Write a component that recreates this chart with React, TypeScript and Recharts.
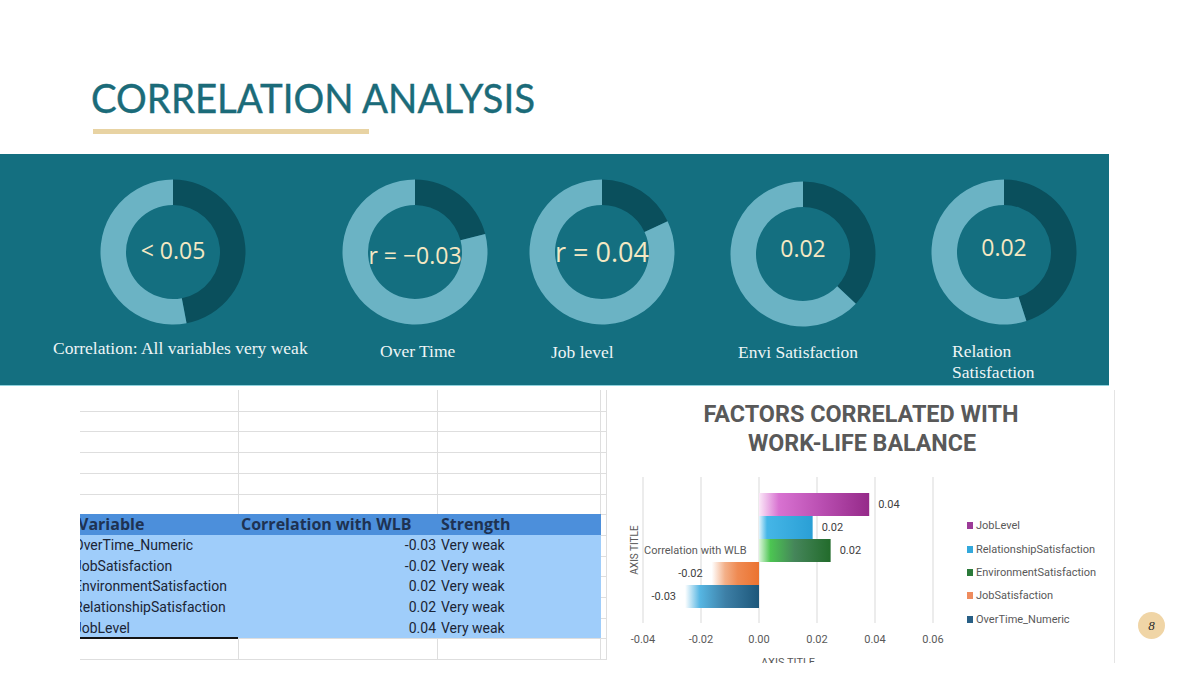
import React from 'react';
import {
    PieChart, Pie, Cell, Label,
    BarChart, Bar, XAxis, YAxis, CartesianGrid, LabelList, Legend, ReferenceDot
} from 'recharts';

// donut strip
const donutCaptions = ['Correlation: All variables very weak', 'Over Time', 'Job level', 'Envi Satisfaction', 'Relation Satisfaction'];
const donutTexts = ['< 0.05', 'r = \u22120.03', 'r = 0.04', '0.02', '0.02'];
const donutShares = [47, 21, 18, 37, 45];

// spreadsheet table
const tableHeaders = ['Variable', 'Correlation with WLB', 'Strength'];
const tableVariables = ['OverTime_Numeric', 'JobSatisfaction', 'EnvironmentSatisfaction', 'RelationshipSatisfaction', 'JobLevel'];
const tableCorrelations = [-0.03, -0.02, 0.02, 0.02, 0.04];
const tableStrengths = ['Very weak', 'Very weak', 'Very weak', 'Very weak', 'Very weak'];

// bar chart
const chartCategory = 'Correlation with WLB';
const factorNames = ['JobLevel', 'RelationshipSatisfaction', 'EnvironmentSatisfaction', 'JobSatisfaction', 'OverTime_Numeric'];
const factorValues = [0.038, 0.0185, 0.0247, -0.0163, -0.0255];
const xTicks = [-0.04, -0.02, 0, 0.02, 0.04, 0.06];

const TEAL = '#146f80';
const RING_DARK = '#0a4f5c';
const RING_LIGHT = '#6bb3c4';
const CREAM = '#f4e8c3';

// donut centres on the slide
const donutCentres = [
    { x: 173, y: 252 },
    { x: 414.5, y: 251.5 },
    { x: 601.5, y: 252 },
    { x: 802.5, y: 253.5 },
    { x: 1004, y: 252 },
];
const DONUT_BOX = 160;
const donutFont = [23, 23, 27, 23, 23];
const donutDy = [-1, 4, 0, -5, -4];
const captionPos = [
    { left: 53, top: 338 },
    { left: 380, top: 341 },
    { left: 551, top: 342 },
    { left: 738, top: 342 },
    { left: 952, top: 341 },
];

const swatches = ['#9c3b98', '#33a8db', '#2b7a3a', '#ef8c5e', '#285f85'];
const gradientStops: [number, string][][] = [
    [[0, '#fbe8f8'], [0.18, '#d872d1'], [0.55, '#bb50b3'], [1, '#952a89']],
    [[0, '#e2f4fc'], [0.15, '#45b6e7'], [1, '#2a9fd5']],
    [[0, '#dcf6dc'], [0.16, '#4cc552'], [0.5, '#45855a'], [1, '#226b2b']],
    [[0, '#ffffff'], [0.28, '#f3b089'], [0.55, '#ef8a52'], [1, '#eb7330']],
    [[0, '#ffffff'], [0.2, '#56b6e3'], [0.55, '#3d7fa6'], [1, '#1d577a']],
];

const barRows = [
    factorNames.reduce<Record<string, string | number>>((row, name, i) => {
        row[name] = factorValues[i];
        return row;
    }, { name: chartCategory }),
];

const ROW_H = 20.7;
const SHEET_ROWS = 13;
const HEADER_ROW = 6;

const Donut = ({ i }: { i: number }) => {
    const share = donutShares[i];
    const c = donutCentres[i];
    return (
        <div style={{ position: 'absolute', left: c.x - DONUT_BOX / 2, top: c.y - 154 - DONUT_BOX / 2, fontFamily: '"Open Sans", sans-serif' }}>
            <PieChart width={DONUT_BOX} height={DONUT_BOX} margin={{ top: 0, right: 0, bottom: 0, left: 0 }}>
                <Pie
                    data={[{ name: 'r', value: share }, { name: 'rest', value: 100 - share }]}
                    dataKey="value"
                    cx="50%"
                    cy="50%"
                    innerRadius={47}
                    outerRadius={72.5}
                    startAngle={90}
                    endAngle={-270}
                    stroke="none"
                    isAnimationActive={false}
                >
                    <Cell fill={RING_DARK} />
                    <Cell fill={RING_LIGHT} />
                    <Label value={donutTexts[i]} position="center" fill={CREAM} fontSize={donutFont[i]} dy={donutDy[i]} />
                </Pie>
            </PieChart>
        </div>
    );
};

const SheetTable = () => {
    const headerTop = HEADER_ROW * ROW_H;
    return (
        <div style={{ position: 'absolute', left: 80, top: 390, width: 530, height: 272, overflow: 'hidden' }}>
            {/* grid */}
            {Array.from({ length: SHEET_ROWS }, (_, i) => (
                <div key={'h' + i} style={{ position: 'absolute', left: 0, width: 526, top: (i + 1) * ROW_H, height: 1, background: '#dedede' }} />
            ))}
            {[158, 357, 520, 526].map(x => (
                <div key={'v' + x} style={{ position: 'absolute', top: 0, height: 270, left: x, width: 1, background: '#dedede' }} />
            ))}
            {/* blue block */}
            <div style={{ position: 'absolute', left: 0, width: 521, top: headerTop, height: ROW_H + 0.5, background: '#4c8fdb' }} />
            <div style={{ position: 'absolute', left: 0, width: 521, top: headerTop + ROW_H, height: ROW_H * 5, background: '#9fcdfa' }} />
            <div style={{ position: 'absolute', left: 0, width: 158, top: headerTop + ROW_H * 6 - 1, height: 2, background: '#141414' }} />

            {/* header */}
            <div style={{ position: 'absolute', top: headerTop, height: ROW_H, lineHeight: ROW_H + 'px', left: 0, right: 0, fontFamily: '"Open Sans", sans-serif', fontWeight: 700, fontSize: 16, color: '#1e3252' }}>
                <span style={{ position: 'absolute', left: -2 }}>{tableHeaders[0]}</span>
                <span style={{ position: 'absolute', left: 161 }}>{tableHeaders[1]}</span>
                <span style={{ position: 'absolute', left: 361 }}>{tableHeaders[2]}</span>
            </div>

            {/* data rows */}
            {tableVariables.map((v, i) => (
                <div key={v} style={{ position: 'absolute', top: headerTop + ROW_H * (i + 1), height: ROW_H, lineHeight: ROW_H + 'px', left: 0, right: 0, fontFamily: 'Roboto, sans-serif', fontSize: 14, color: '#1b2536' }}>
                    <span style={{ position: 'absolute', left: -6 }}>{v}</span>
                    <span style={{ position: 'absolute', right: 530 - 356, textAlign: 'right' }}>{tableCorrelations[i].toFixed(2)}</span>
                    <span style={{ position: 'absolute', left: 361 }}>{tableStrengths[i]}</span>
                </div>
            ))}
        </div>
    );
};

const renderLegend = () => (
    <div style={{ display: 'flex', flexDirection: 'column', fontFamily: 'Roboto, sans-serif' }}>
        {factorNames.map((n, i) => (
            <div key={n} style={{ height: 23.4, display: 'flex', alignItems: 'center', fontSize: 11, color: '#595959' }}>
                <span style={{ display: 'inline-block', width: 6, height: 7, background: swatches[i], marginRight: 3 }} />
                {n}
            </div>
        ))}
    </div>
);

const FactorChart = () => (
    <div style={{ position: 'absolute', left: 610, top: 390, width: 503, height: 273, background: '#fff', fontFamily: 'Roboto, sans-serif' }}>
        <svg width={503} height={70} style={{ position: 'absolute', left: 0, top: 0 }}>
            <text x={251} y={31.7} textAnchor="middle" fontFamily="Roboto, sans-serif" fontWeight={700} fontSize={23} fill="#595959" textLength={315} lengthAdjust="spacingAndGlyphs">FACTORS CORRELATED WITH</text>
            <text x={252} y={61} textAnchor="middle" fontFamily="Roboto, sans-serif" fontWeight={700} fontSize={23} fill="#595959" textLength={228} lengthAdjust="spacingAndGlyphs">WORK-LIFE BALANCE</text>
        </svg>
        <BarChart
            width={503}
            height={273}
            data={barRows}
            layout="vertical"
            margin={{ top: 87, right: 180, left: 15, bottom: 10 }}
            barGap={0}
            barCategoryGap={0}
        >
            <defs>
                {gradientStops.map((stops, i) => (
                    <linearGradient key={i} id={'fade' + i} x1="0" y1="0" x2="1" y2="0">
                        {stops.map(([o, c]) => <stop key={o} offset={o} stopColor={c} />)}
                    </linearGradient>
                ))}
            </defs>
            <CartesianGrid horizontal={false} stroke="#d9d9d9" />
            <XAxis
                type="number"
                domain={[-0.04, 0.06]}
                ticks={xTicks}
                tickFormatter={(v: number) => v.toFixed(2)}
                axisLine={false}
                tickLine={false}
                tickMargin={6}
                height={30}
                tick={{ fill: '#595959', fontSize: 11 }}
                label={{ value: 'AXIS TITLE', position: 'bottom', offset: 5, fill: '#595959', fontSize: 11 }}
            />
            <YAxis
                type="category"
                dataKey="name"
                width={18}
                tick={false}
                axisLine={false}
                tickLine={false}
                label={{ value: 'AXIS TITLE', angle: -90, position: 'center', fill: '#595959', fontSize: 10 }}
            />
            {factorNames.map((name, i) => (
                <Bar key={name} dataKey={name} fill={`url(#fade${i})`} barSize={23} isAnimationActive={false}>
                    <LabelList dataKey={name} position="right" offset={9} fill="#404040" fontSize={11}
                        formatter={(v: any) => Number(v).toFixed(2)} />
                </Bar>
            ))}
            <ReferenceDot x={0} y={chartCategory} r={0.5} fill="none" stroke="none"
                label={{ value: chartCategory, position: 'left', offset: 12, fill: '#595959', fontSize: 11 }} />
            <Legend
                layout="vertical"
                align="center"
                verticalAlign="middle"
                content={renderLegend}
                wrapperStyle={{ left: 357, top: 124, width: 150 }}
            />
        </BarChart>
    </div>
);

export default function App() {
    return (
        <div style={{ position: 'relative', width: 1200, height: 675, background: '#fff', overflow: 'hidden' }}>
            <style>{'body{margin:0}'}</style>

            {/* slide title */}
            <svg width={600} height={140} style={{ position: 'absolute', left: 0, top: 0 }}>
                <text x={91} y={113} fontFamily="Lato, sans-serif" fontSize={40} fill="#1b6b79" stroke="#1b6b79" strokeWidth={0.4} textLength={444} lengthAdjust="spacingAndGlyphs">CORRELATION ANALYSIS</text>
            </svg>
            <div style={{ position: 'absolute', left: 93, top: 129, width: 276, height: 5, background: '#e8d3a3' }} />

            {/* teal band with donuts */}
            <div style={{ position: 'absolute', left: 0, top: 154, width: 1109, height: 231, background: TEAL, borderBottom: '1px solid #8fd2dd' }}>
                {donutShares.map((_, i) => <Donut key={i} i={i} />)}
                {donutCaptions.map((c, i) => (
                    <div key={c} style={{
                        position: 'absolute', left: captionPos[i].left, top: captionPos[i].top - 154,
                        width: i === 4 ? 110 : 300, fontFamily: '"Liberation Serif", serif', fontSize: 17.5,
                        lineHeight: '21px', color: '#eef5f6'
                    }}>{c}</div>
                ))}
            </div>

            <SheetTable />
            <FactorChart />
            <div style={{ position: 'absolute', left: 1114, top: 390, width: 1, height: 273, background: '#e4e4e4' }} />

            {/* page number */}
            <div style={{
                position: 'absolute', left: 1138, top: 612, width: 27, height: 27, borderRadius: '50%',
                background: '#f0d5a6', color: '#2b2b2b', fontFamily: '"Liberation Serif", serif', fontStyle: 'italic',
                fontSize: 13, lineHeight: '27px', textAlign: 'center'
            }}>8</div>
        </div>
    );
}
